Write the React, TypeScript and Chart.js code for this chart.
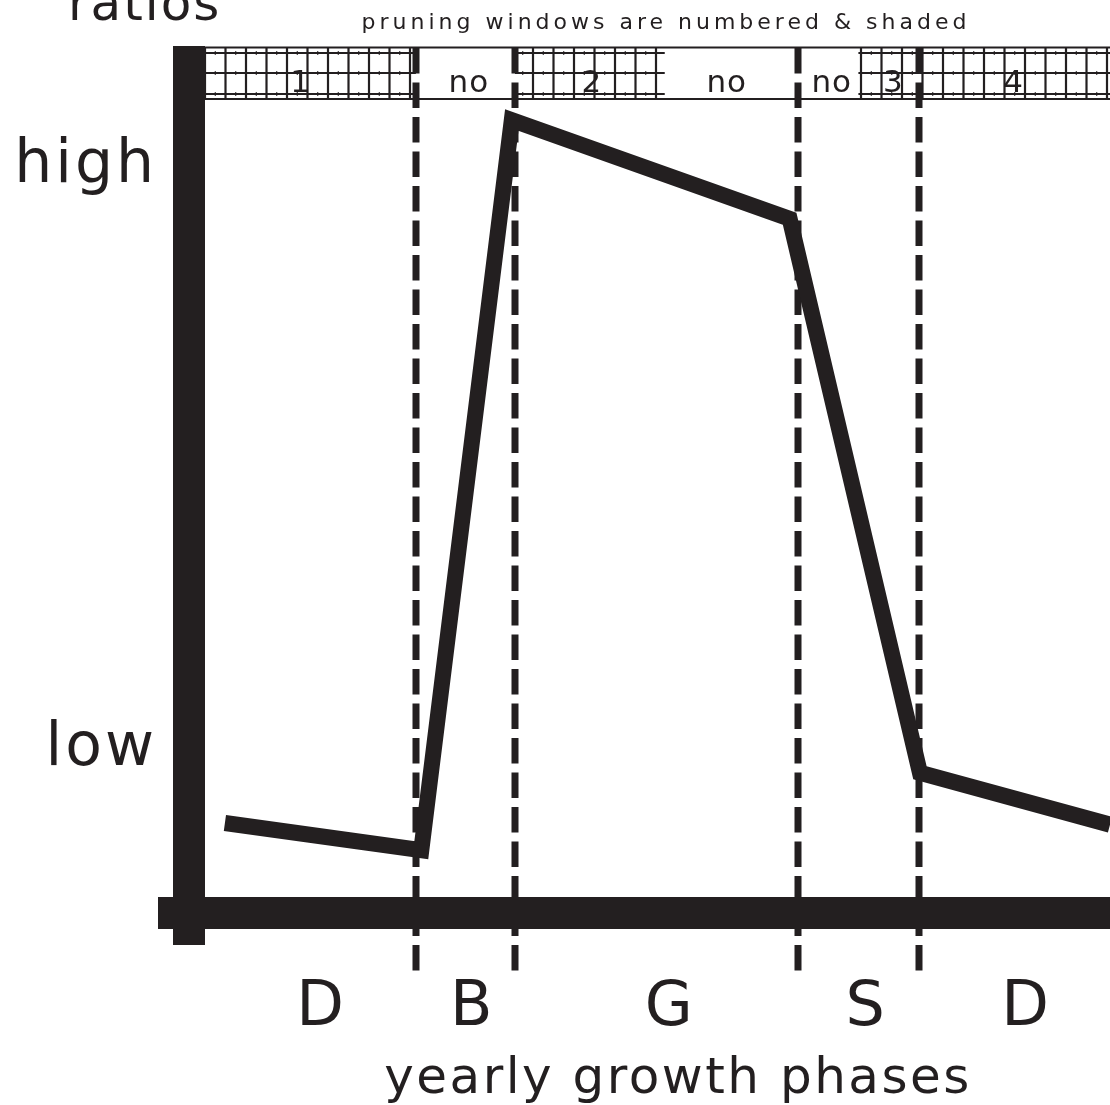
import React, { useEffect, useRef } from 'react';
import { Chart, registerables } from 'chart.js';

Chart.register(...registerables);

const INK = '#231f20';
const FONT = '"DejaVu Sans", "Noto Sans", sans-serif';
const WEIGHT = 'normal';

// ratio curve (x: position within the year, 0-100; y: relative ratio, 0-100)
const curveX = [2.2, 23.9, 33.9, 64.6, 79.0, 100];
const curveY = [8.7, 5.5, 91.3, 79.7, 14.6, 8.5];

// y axis
const yTickValues = [17.4, 85.9];
const yTickLabels = ['low', 'high'];

// growth phases
const phaseLabels = ['D', 'B', 'G', 'S', 'D'];
const phaseLabelX = [12.9, 29.6, 51.4, 73.1, 90.8];
const phaseBoundaries = [23.3, 34.25, 65.5, 78.9];

// pruning windows band
const windowLabels = ['1', 'no', '2', 'no', 'no', '3', '4'];
const windowStart = [0, 23.3, 34.25, 50.8, 65.5, 72.2, 78.9];
const windowEnd = [23.3, 34.25, 50.8, 65.5, 72.2, 78.9, 100];
const windowShaded = [true, false, true, false, false, true, true];
const windowLabelX = [10.5, 29.1, 42.7, 57.6, 69.2, 76.0, 89.3];

const titleText = 'pruning windows are numbered & shaded';
const yAxisTitle = 'ratios';
const xAxisTitle = 'yearly growth phases';

const noPad = (s: any) => {
  s.paddingTop = 0;
  s.paddingBottom = 0;
  s.paddingLeft = 0;
  s.paddingRight = 0;
};

const diagramPlugin = {
  id: 'diagram',
  beforeDraw(chart: any) {
    chart.ctx.letterSpacing = '3px';
  },
  beforeDatasetsDraw(chart: any) {
    const { ctx, chartArea: ca, scales } = chart;
    const x = scales.x;
    ctx.save();
    ctx.letterSpacing = '0px';
    const top = ca.top;
    const bandBottom = top + 53;
    ctx.strokeStyle = INK;
    ctx.fillStyle = INK;
    const spacing = 20.5;
    for (let i = 0; i < windowLabels.length; i++) {
      if (!windowShaded[i]) continue;
      const x0 = x.getPixelForValue(windowStart[i]);
      const x1 = x.getPixelForValue(windowEnd[i]);
      ctx.lineWidth = 2;
      for (const dy of [7, 27, 48]) {
        ctx.beginPath();
        ctx.moveTo(x0, top + dy);
        ctx.lineTo(x1, top + dy);
        ctx.stroke();
      }
      ctx.lineWidth = 2.2;
      for (let k = 0; ; k++) {
        const px = ca.left + k * spacing;
        if (px > x1) break;
        if (px < x0 - 0.5) continue;
        ctx.beginPath();
        ctx.moveTo(px, top + 1);
        ctx.lineTo(px, bandBottom);
        ctx.stroke();
      }
      ctx.lineWidth = 1;
      for (let k = 0; ; k++) {
        const px = ca.left + k * spacing + spacing / 2;
        if (px > x1) break;
        if (px < x0) continue;
        for (const dy of [7, 27, 48]) {
          ctx.beginPath();
          ctx.moveTo(px, top + dy - 2);
          ctx.lineTo(px, top + dy + 2);
          ctx.stroke();
        }
      }
    }
    ctx.lineWidth = 2;
    for (const dy of [1.5, 53]) {
      ctx.beginPath();
      ctx.moveTo(ca.left, top + dy);
      ctx.lineTo(ca.right, top + dy);
      ctx.stroke();
    }
    ctx.font = `${WEIGHT} 31px ${FONT}`;
    ctx.textAlign = 'center';
    ctx.textBaseline = 'alphabetic';
    ctx.letterSpacing = '1px';
    for (let i = 0; i < windowLabels.length; i++) {
      const px = x.getPixelForValue(windowLabelX[i]);
      ctx.fillStyle = INK;
      ctx.fillText(windowLabels[i], px + 0.5, top + 46);
    }
    ctx.lineWidth = 7;
    ctx.setLineDash([25.5, 9]);
    for (const b of phaseBoundaries) {
      const px = Math.round(x.getPixelForValue(b));
      ctx.beginPath();
      ctx.moveTo(px, top + 2);
      ctx.lineTo(px, ca.bottom + 74);
      ctx.stroke();
    }
    ctx.restore();
  },
  afterDraw(chart: any) {
    const { ctx, chartArea: ca } = chart;
    ctx.save();
    ctx.fillStyle = INK;
    ctx.fillRect(ca.left - 32, ca.top, 32, ca.bottom - ca.top + 48);
    ctx.fillRect(ca.left - 47, ca.bottom, ca.right - ca.left + 47, 32);
    ctx.textBaseline = 'alphabetic';
    ctx.textAlign = 'left';
    ctx.letterSpacing = '2px';
    ctx.font = `${WEIGHT} 50px ${FONT}`;
    ctx.fillText(yAxisTitle, 68, 20);
    ctx.textAlign = 'center';
    ctx.letterSpacing = '4px';
    ctx.font = `${WEIGHT} 22px ${FONT}`;
    ctx.fillText(titleText, 666, 29);
    ctx.letterSpacing = '2.5px';
    ctx.font = `${WEIGHT} 50px ${FONT}`;
    ctx.fillText(xAxisTitle, 678, 1093);
    ctx.restore();
    ctx.letterSpacing = '0px';
  },
};

export default function App() {
  const ref = useRef<HTMLCanvasElement | null>(null);
  useEffect(() => {
    if (!ref.current) return;
    const chart = new Chart(ref.current, {
      type: 'line',
      data: {
        datasets: [
          {
            data: curveX.map((x, i) => ({ x, y: curveY[i] })),
            borderColor: INK,
            borderWidth: 16,
            borderJoinStyle: 'miter',
            borderCapStyle: 'butt',
            pointRadius: 0,
            tension: 0,
            fill: false,
            clip: 8,
          },
        ],
      },
      options: {
        animation: false,
        responsive: false,
        layout: { padding: { top: 46, left: 0, right: 0, bottom: 0 } },
        plugins: { legend: { display: false }, tooltip: { enabled: false }, title: { display: false } },
        scales: {
          x: {
            type: 'linear',
            min: 0,
            max: 100,
            grid: { display: false },
            border: { display: false },
            afterFit: (s: any) => { s.height = 208; noPad(s); },
            afterBuildTicks: (s: any) => { s.ticks = phaseLabelX.map((v) => ({ value: v })); },
            ticks: {
              autoSkip: false,
              maxRotation: 0,
              minRotation: 0,
              padding: 67,
              color: INK,
              font: { family: FONT, size: 62, weight: WEIGHT },
              callback: (_v: any, i: number) => phaseLabels[i],
            },
          },
          y: {
            type: 'linear',
            min: 0,
            max: 100,
            grid: { display: false },
            border: { display: false },
            afterFit: (s: any) => { s.width = 205; noPad(s); },
            afterBuildTicks: (s: any) => { s.ticks = yTickValues.map((v) => ({ value: v })); },
            ticks: {
              padding: 40,
              color: INK,
              font: { family: FONT, size: 60, weight: WEIGHT },
              callback: (_v: any, i: number) => yTickLabels[i],
            },
          },
        },
      },
      plugins: [diagramPlugin],
    });
    return () => chart.destroy();
  }, []);
  return (
    <div style={{ position: 'absolute', left: 0, top: 0, width: 1110, height: 1105, background: '#fff' }}>
      <canvas ref={ref} width={1110} height={1105} style={{ display: 'block' }} />
    </div>
  );
}
